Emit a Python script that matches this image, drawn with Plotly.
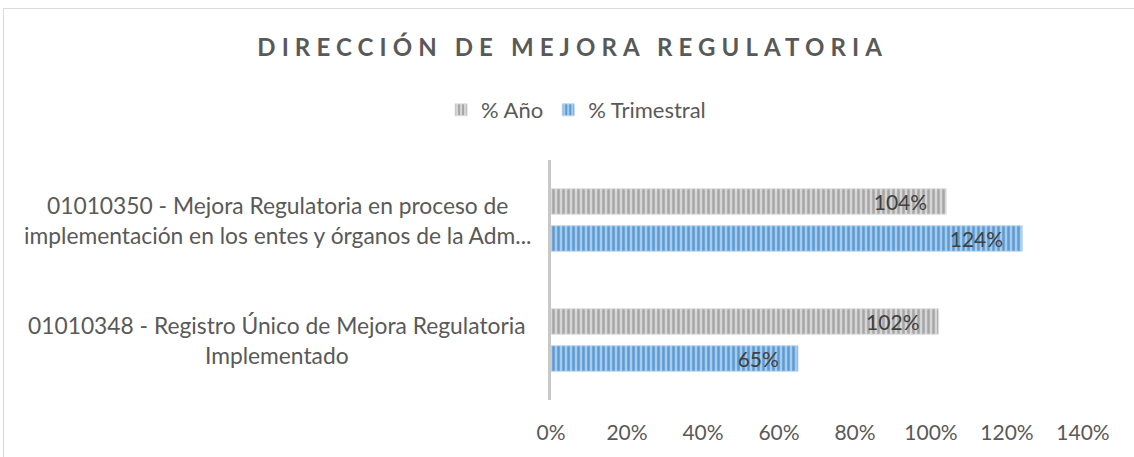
import plotly.graph_objects as go

# Data
categories = [
    "01010348 - Registro Único de Mejora Regulatoria<br>Implementado",
    "01010350 - Mejora Regulatoria en proceso de<br>implementación en los entes y órganos de la Adm...",
]
series_names = ["% Año", "% Trimestral"]
pct_anio = [1.02, 1.04]
pct_trimestral = [0.65, 1.24]
x_ticks = [0, 0.2, 0.4, 0.6, 0.8, 1.0, 1.2, 1.4]

W, H = 1134, 457
L, R, T, B = 551, 51, 160, 57
pw = W - L - R
ph = H - T - B

TXT = "#595959"
FONT = "Lato"

fig = go.Figure()

# blue first (bottom of each group), gray second (top)
fig.add_trace(go.Bar(
    y=categories, x=pct_trimestral, name=series_names[1], orientation="h",
    legendrank=2,
    marker=dict(color="#9dc3e6",
                pattern=dict(shape="|", fgcolor="#5b9bd5", bgcolor="#a9cbea",
                             size=5, solidity=0.5, fillmode="replace"),
                line=dict(color="#bdd7ee", width=1)),
    texttemplate="%{x:.0%}\u00a0\u00a0\u00a0", textposition="inside",
    insidetextanchor="end", constraintext="none",
    textfont=dict(family=FONT, size=21, color="#404040"),
))
fig.add_trace(go.Bar(
    y=categories, x=pct_anio, name=series_names[0], orientation="h",
    legendrank=1,
    marker=dict(color="#d0d0d0",
                pattern=dict(shape="|", fgcolor="#a6a6a6", bgcolor="#d6d6d6",
                             size=5, solidity=0.5, fillmode="replace"),
                line=dict(color="#dedede", width=1)),
    texttemplate="%{x:.0%}\u00a0\u00a0\u00a0", textposition="inside",
    insidetextanchor="end", constraintext="none",
    textfont=dict(family=FONT, size=21, color="#404040"),
))

annotations = []
for c in categories:
    annotations.append(dict(
        x=(277 - L) / pw, xref="paper", y=c, yref="y",
        text=c, showarrow=False, align="center", xanchor="center", yanchor="middle",
        font=dict(family=FONT, size=22.8, color=TXT),
    ))

fig.update_layout(
    width=W, height=H,
    margin=dict(l=L, r=R, t=T, b=B, autoexpand=False),
    paper_bgcolor="white", plot_bgcolor="white",
    barmode="group", bargap=0.383, bargroupgap=0.31,
    title=dict(text="<b>DIRECCIÓN DE MEJORA REGULATORIA</b>", xref="container", x=0.505,
               xanchor="center", yref="container", y=1 - 48 / H, yanchor="middle",
               font=dict(family=FONT, size=24, color=TXT)),
    legend=dict(orientation="h", xref="container", x=0.508, xanchor="center",
                yref="container", y=1 - 110 / H, yanchor="middle",
                font=dict(family=FONT, size=22, color=TXT), itemwidth=30),
    xaxis=dict(range=[0, 1.4], tickvals=x_ticks, tickformat=".0%", showgrid=False,
               zeroline=False, showline=False, ticks="", ticklabelstandoff=18,
               tickfont=dict(family=FONT, size=21, color=TXT)),
    yaxis=dict(showticklabels=False, showline=True, linecolor="#c8c8c8", linewidth=3,
               showgrid=False, ticks=""),
    annotations=annotations,
    shapes=[dict(type="rect", xref="paper", yref="paper",
                 x0=(3.5 - L) / pw, x1=1.3, y0=-0.5, y1=((H - B) - 8.5) / ph,
                 line=dict(color="#d9d9d9", width=1), fillcolor="rgba(0,0,0,0)", layer="below")],
    showlegend=True,
)

post = ("document.body.style.margin='0';document.body.style.overflow='hidden';"
        "document.querySelectorAll('.gtitle').forEach(function(e){e.setAttribute('letter-spacing','6.1px');});")
fig.write_html("out.html", post_script=post, config={"displayModeBar": False})
